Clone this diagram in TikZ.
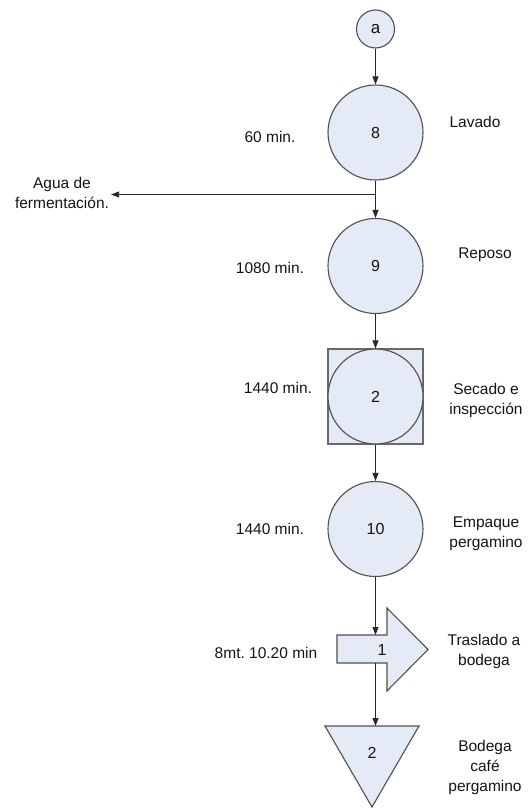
\documentclass[tikz,border=0pt]{standalone}
\usepackage{fontspec}
\setmainfont{Liberation Sans}
\usetikzlibrary{arrows.meta}
\frenchspacing
\definecolor{shapefill}{RGB}{228,234,246}
\definecolor{shapeline}{RGB}{80,80,80}
\definecolor{boxline}{RGB}{105,105,105}
\definecolor{flowline}{RGB}{40,40,40}
\definecolor{labeltext}{RGB}{20,20,20}
\tikzset{
  opcircle/.style={circle, draw=shapeline, fill=shapefill, line width=1.1pt,
    inner sep=0pt, minimum size=95pt, text=labeltext,
    font=\fontsize{16}{19}\selectfont},
  opbox/.style={rectangle, draw=boxline, fill=shapefill, line width=1.1pt,
    inner sep=0pt, minimum size=95pt},
  lbl/.style={text=labeltext, align=center, inner sep=2pt,
    font=\fontsize{15.5}{20}\selectfont},
  flow/.style={draw=flowline, line width=0.9pt,
    -{Triangle[length=8pt,width=6pt]}},
}
\begin{document}
\begin{tikzpicture}[x=1pt,y=-1pt]
\useasboundingbox (0,0) rectangle (529,808);

% connector symbol
\node[opcircle, minimum size=38pt, font=\fontsize{17}{20}\selectfont] (a) at (375.5,29) {a};

% operations
\node[opcircle] (c8) at (375.5,132.5) {8};
\node[opcircle] (c9) at (375.5,266) {9};
\node[opbox] (sq) at (375.5,396.5) {};
\node[opcircle] (c2) at (375.5,396.5) {2};
\node[opcircle] (c10) at (375.5,529) {10};

% transport arrow
\draw[shapeline, fill=shapefill, line width=1.1pt]
  (337,635) -- (387,635) -- (387,608) -- (428,649.5) -- (387,691)
  -- (387,663) -- (337,663) -- cycle;
\node[text=labeltext, font=\fontsize{16}{19}\selectfont] (t1) at (382,649.5) {1};
\coordinate (trtop) at (375.5,635);
\coordinate (trbot) at (375.5,663);

% storage triangle
\draw[shapeline, fill=shapefill, line width=1.1pt]
  (325,726) -- (419,726) -- (372,807) -- cycle;
\node[text=labeltext, font=\fontsize{16}{19}\selectfont] (b2) at (372,753) {2};
\coordinate (tritop) at (375.5,726);

% times
\node[lbl] (t8) at (270,137) {60 min.};
\node[lbl] (t9) at (270,268) {1080 min.};
\node[lbl] (t2) at (278,388) {1440 min.};
\node[lbl] (t10) at (270,529) {1440 min.};
\node[lbl] (ttr) at (266,653) {8mt. 10.20 min};

% descriptions
\node[lbl] (d8) at (475,122) {Lavado};
\node[lbl] (d9) at (485,255) {Reposo};
\node[lbl] (d2) at (486,400) {Secado e\\inspección};
\node[lbl] (d10) at (486,533.5) {Empaque\\pergamino};
\node[lbl] (dtr) at (484,651.5) {Traslado a\\bodega};
\node[lbl] (db) at (485,767) {Bodega\\café\\pergamino};

% waste output
\node[lbl] (agua) at (62,193) {Agua de\\fermentación.};
\coordinate (br) at (375.5,194.5);

% flow connectors
\draw[flow] (a) -- (c8);
\draw[flow] (c8) -- (c9);
\draw[flow] (br) -- (br -| agua.east);
\draw[flow] (c9) -- (sq);
\draw[flow] (sq) -- (c10);
\draw[flow] (c10) -- (trtop);
\draw[flow] (trbot) -- (tritop);
\end{tikzpicture}
\end{document}
